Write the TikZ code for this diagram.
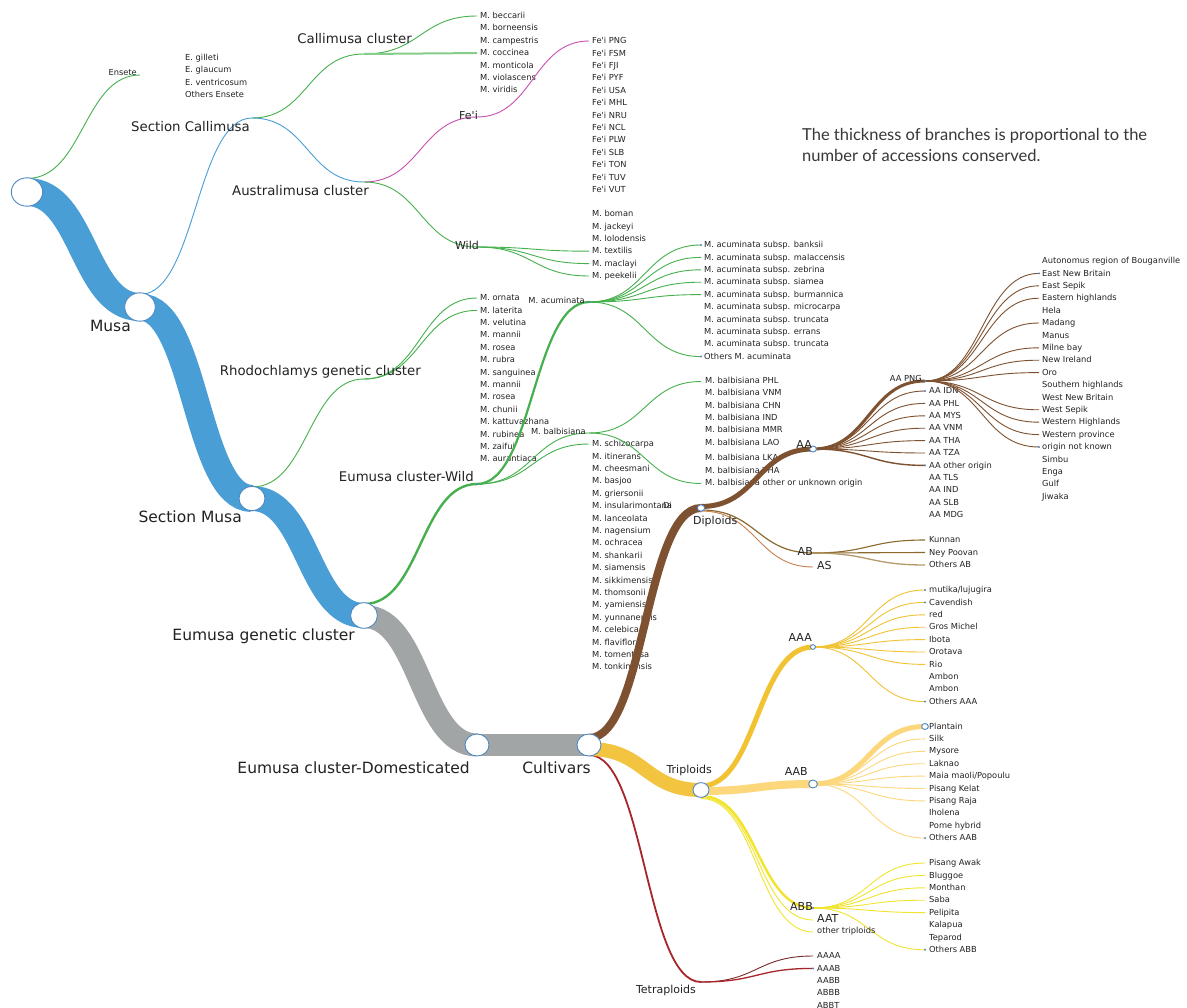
\documentclass[tikz,border=0pt]{standalone}
\usepackage{fontspec}
\setmainfont{DejaVu Sans}
\newfontfamily\notefont{Lato}
\usetikzlibrary{calc,shapes.geometric}
\definecolor{cblue}{HTML}{4A9ED6}
\definecolor{cgray}{HTML}{A2A5A6}
\definecolor{cgreen}{HTML}{45B04D}
\definecolor{cmag}{HTML}{C84FB0}
\definecolor{cbrown}{HTML}{7E5130}
\definecolor{cgold}{HTML}{F1C232}
\definecolor{ctri}{HTML}{F2C440}
\definecolor{cly}{HTML}{FDD77C}
\definecolor{cyel}{HTML}{F2E42C}
\definecolor{cred}{HTML}{A8252A}
\definecolor{cdred}{HTML}{7A2C2C}
\definecolor{colive}{HTML}{8C6A2E}
\definecolor{cas}{HTML}{C8804E}
\definecolor{ctan}{HTML}{B49A68}
\definecolor{cstroke}{HTML}{4F87C2}
\definecolor{ctext}{HTML}{222222}
\newcommand\fap{\textquotesingle}
\tikzset{
  lk/.style={line cap=butt, to path={let \p1=(\tikztostart), \p2=(\tikztotarget), \n1={(\x1+\x2)/2} in .. controls (\n1,\y1) and (\n1,\y2) .. (\tikztotarget)}},
  lab/.style={inner sep=0pt, text height=.73em, text depth=0pt, text=ctext},
  big/.style={lab, anchor=east, font=\fontsize{15.5}{17}\selectfont},
  mid/.style={lab, anchor=east, font=\fontsize{13.3}{15}\selectfont},
  sml/.style={lab, anchor=east, font=\fontsize{11}{13}\selectfont},
  lf/.style={lab, anchor=west, font=\fontsize{8.3}{10}\selectfont},
  nd/.style={ellipse, draw=cstroke, fill=white, line width=0.9pt, inner sep=0pt},
  ldot/.style={circle, fill=cstroke, inner sep=0pt, minimum size=2.2pt},
  thin/.style={line width=0.9pt},
}
\newcommand\leafgroup[6]{\foreach \lbl [count=\i] in {#6} {\node[lf] (#1-\i) at (#2,{#4+#5*(\i-1)}) {\lbl}; \coordinate (#1-\i-e) at (#3,{#4+#5*(\i-1)+1});}}
\begin{document}
\begin{tikzpicture}[x=1pt,y=-1pt]
\fill[white] (0,0) rectangle (1187,1008);
\useasboundingbox (0,0) rectangle (1187,1008);
% tree points
\coordinate (root) at (27,192);
\coordinate (ensete) at (140,75);
\coordinate (musa) at (140,307);
\coordinate (scal) at (252,118);
\coordinate (smusa) at (252,498.5);
\coordinate (ccl) at (364,54);
\coordinate (aus) at (364,182);
\coordinate (rho) at (364,379);
\coordinate (eug) at (364,615.5);
\coordinate (feii) at (477,117);
\coordinate (wildA) at (477,247);
\coordinate (ewild) at (477,484);
\coordinate (dom) at (477,745);
\coordinate (cult) at (589,745);
\coordinate (acu) at (589,302);
\coordinate (bal) at (589,433);
\coordinate (dip) at (701,508);
\coordinate (tri) at (701,790);
\coordinate (tet) at (701,982);
\coordinate (aa) at (813,449);
\coordinate (ab) at (813,553);
\coordinate (as) at (813,567);
\coordinate (aaa) at (813,647);
\coordinate (aab) at (813,784);
\coordinate (abb) at (813,908);
\coordinate (aat) at (813,920);
\coordinate (otr) at (813,932);
\coordinate (aapng) at (925,381);
% stacked start points of child branches
\coordinate (root-top) at (27,178.5);
\coordinate (musa-top) at (140,294.5);
\coordinate (smusa-top) at (252,487);
\coordinate (eug-top) at (364,604);
\coordinate (eug-low) at (364,616.5);
\coordinate (cult-dip) at (589,738);
\coordinate (cult-tri) at (589,749);
\coordinate (cult-tet) at (589,755);
\coordinate (dip-aa) at (701,506.5);
\coordinate (dip-ab) at (701,510);
\coordinate (dip-as) at (701,511);
\coordinate (tri-aaa) at (701,786);
\coordinate (tri-aab) at (701,791);
\coordinate (tri-abb) at (701,796);
\coordinate (tri-aat) at (701,797.5);
\coordinate (tri-otr) at (701,798.5);
% leaves
\leafgroup{ens}{185}{182}{56.5}{12.5}{E. gilleti, E. glaucum, E. ventricosum, Others Ensete}
\leafgroup{cal}{480}{477}{15}{12.35}{M. beccarii, M. borneensis, M. campestris, M. coccinea, M. monticola, M. violascens, M. viridis}
\leafgroup{fei}{592}{589}{40}{12.4}{Fe\fap i PNG, Fe\fap i FSM, Fe\fap i FJI, Fe\fap i PYF, Fe\fap i USA, Fe\fap i MHL, Fe\fap i NRU, Fe\fap i NCL, Fe\fap i PLW, Fe\fap i SLB, Fe\fap i TON, Fe\fap i TUV, Fe\fap i VUT}
\leafgroup{wa}{592}{589}{213}{12.4}{M. boman, M. jackeyi, M. lolodensis, M. textilis, M. maclayi, M. peekelii}
\leafgroup{ac}{704}{701}{244}{12.4}{M. acuminata subsp. banksii, M. acuminata subsp. malaccensis, M. acuminata subsp. zebrina, M. acuminata subsp. siamea, M. acuminata subsp. burmannica, M. acuminata subsp. microcarpa, M. acuminata subsp. truncata, M. acuminata subsp. errans, M. acuminata subsp. truncata, Others M. acuminata}
\leafgroup{rh}{480}{477}{297}{12.4}{M. ornata, M. laterita, M. velutina, M. mannii, M. rosea, M. rubra, M. sanguinea, M. mannii, M. rosea, M. chunii, M. kattuvazhana, M. rubinea, M. zaifui, M. aurantiaca}
\leafgroup{ew}{592}{589}{443}{12.4}{M. schizocarpa, M. itinerans, M. cheesmani, M. basjoo, M. griersonii, M. insularimontana, M. lanceolata, M. nagensium, M. ochracea, M. shankarii, M. siamensis, M. sikkimensis, M. thomsonii, M. yamiensis, M. yunnanensis, M. celebica, M. flaviflora, M. tomentosa, M. tonkinensis}
\foreach \lbl/\yy [count=\i] in {PHL/380, VNM/392.3, CHN/404.6, IND/416.9, MMR/429.2, LAO/441.5, LKA/457, THA/469.5, other or unknown origin/482} {
  \node[lf] (ba-\i) at (705,\yy) {M. balbisiana \lbl};
  \coordinate (ba-\i-e) at (701,{\yy+1.5});
}
\leafgroup{aal}{929}{925}{390}{12.4}{AA IDN, AA PHL, AA MYS, AA VNM, AA THA, AA TZA, AA other origin, AA TLS, AA IND, AA SLB, AA MDG}
\leafgroup{png}{1042}{1039}{260}{12.4}{Autonomus region of Bouganville, East New Britain, East Sepik, Eastern highlands, Hela, Madang, Manus, Milne bay, New Ireland, Oro, Southern highlands, West New Britain, West Sepik, Western Highlands, Western province, origin not known, Simbu, Enga, Gulf, Jiwaka}
\leafgroup{abl}{929}{925}{539}{12.5}{Kunnan, Ney Poovan, Others AB}
\leafgroup{aaal}{929}{925}{589}{12.4}{{mutika/lujugira}, Cavendish, red, Gros Michel, Ibota, Orotava, Rio, Ambon, Ambon, Others AAA}
\leafgroup{aabl}{929}{925}{725.5}{12.4}{Plantain, Silk, Mysore, Laknao, {Maia maoli/Popoulu}, Pisang Kelat, Pisang Raja, Iholena, Pome hybrid, Others AAB}
\leafgroup{abbl}{929}{925}{862}{12.4}{Pisang Awak, Bluggoe, Monthan, Saba, Pelipita, Kalapua, Teparod, Others ABB}
\leafgroup{tel}{817}{813}{955}{12.4}{AAAA, AAAB, AABB, ABBB, ABBT}
% thick trunk
\draw[lk,cblue,line width=28pt] (root) to (musa);
\draw[lk,cblue,line width=27pt] (musa) to (smusa);
\draw[lk,cblue,line width=25pt] (smusa) to (eug);
\draw[lk,cgray,line width=23pt] (eug-low) to (dom);
\draw[lk,cgray,line width=22pt] (dom) to (cult);
% thin links upper part
\draw[lk,cgreen,thin] (root-top) to (ensete);
\draw[lk,cblue,thin] (musa-top) to (scal);
\draw[lk,cgreen,thin] (scal) to (ccl);
\draw[lk,cblue,thin] (scal) to (aus);
\draw[lk,cgreen,thin] (ccl) to (cal-1-e);
\draw[lk,cgreen!65,line width=2pt] (ccl) to (cal-4-e);
\draw[lk,cmag,thin] (aus) to (feii);
\draw[lk,cgreen,thin] (aus) to (wildA);
\draw[lk,cmag,thin] (feii) to (fei-1-e);
\foreach \k in {4,5,6} \draw[lk,cgreen,thin] (wildA) to (wa-\k-e);
\draw[lk,cgreen,thin] (smusa-top) to (rho);
\foreach \k in {1,2} \draw[lk,cgreen,thin] (rho) to (rh-\k-e);
\draw[lk,cgreen,line width=2.4pt] (eug-top) to (ewild);
\draw[lk,cgreen,line width=2.2pt] (ewild) to (acu);
\draw[lk,cgreen,thin] (ewild) to (bal);
\draw[lk,cgreen,thin] (ewild) to (ew-1-e);
\foreach \k in {1,2,3,4,5,10} \draw[lk,cgreen,thin] (acu) to (ac-\k-e);
\foreach \k in {1,9} \draw[lk,cgreen,thin] (bal) to (ba-\k-e);
% cultivars
\draw[lk,cred,line width=1.8pt] (cult-tet) to (tet);
\draw[lk,cbrown,line width=8pt] (cult-dip) to (dip);
\draw[lk,ctri,line width=14pt] (cult-tri) to (tri);
\draw[lk,colive,line width=1.2pt] (dip-ab) to (ab);
\draw[lk,cas,thin] (dip-as) to (as);
\draw[lk,cbrown,line width=5pt] (dip-aa) to (aa);
\foreach \k in {1,...,6} \draw[lk,cbrown,thin] (aa) to (aal-\k-e);
\draw[lk,cbrown,line width=1.4pt] (aa) to (aal-7-e);
\draw[lk,cbrown,line width=3pt] (aa) to (aapng);
\foreach \k in {2,3,4,6,8,9,10,13,14,15,16} \draw[lk,cbrown,thin] (aapng) to (png-\k-e);
\foreach \k in {1,2} \draw[lk,colive,line width=1.1pt] (ab) to (abl-\k-e);
\draw[lk,ctan,line width=1.3pt] (ab) to (abl-3-e);
\draw[lk,cyel,thin] (tri-otr) to (otr);
\draw[lk,cyel,thin] (tri-aat) to (aat);
\draw[lk,cyel,line width=2.4pt] (tri-abb) to (abb);
\draw[lk,cgold,line width=5pt] (tri-aaa) to (aaa);
\draw[lk,cly,line width=8pt] (tri-aab) to (aab);
\foreach \k in {1,...,7,10} \draw[lk,cgold,thin] (aaa) to (aaal-\k-e);
\foreach \k in {2,...,7,10} \draw[lk,cly,thin] (aab) to (aabl-\k-e);
\draw[lk,cly,line width=5pt] (aab) to (aabl-1-e);
\foreach \k in {1,...,5,8} \draw[lk,cyel,thin] (abb) to (abbl-\k-e);
\draw[lk,cdred,thin] (tet) to (tel-1-e);
\draw[lk,cred,line width=1.3pt] (tet) to (tel-2-e);
% circles
\node[nd,minimum width=31.4pt,minimum height=28.4pt] (n-root) at (root) {};
\node[nd,minimum width=30.6pt,minimum height=28.4pt] (n-musa) at (musa) {};
\node[nd,minimum width=26pt,minimum height=24.4pt] (n-smusa) at (smusa) {};
\node[nd,minimum width=26.8pt,minimum height=25.6pt] (n-eug) at (eug) {};
\node[nd,minimum width=24pt,minimum height=22pt] (n-dom) at (dom) {};
\node[nd,minimum width=24pt,minimum height=22pt] (n-cult) at (cult) {};
\node[nd,minimum width=16pt,minimum height=14.7pt] (n-tri) at (tri) {};
\node[nd,minimum width=8.7pt,minimum height=8pt] (n-aab) at (aab) {};
\node[nd,minimum width=7.3pt,minimum height=6.5pt] (n-dip) at (dip) {};
\node[nd,minimum width=6.7pt,minimum height=6pt] (n-aa) at (aa) {};
\node[nd,minimum width=5pt,minimum height=4.7pt] (n-aaa) at (aaa) {};
\node[nd,minimum width=6.7pt,minimum height=6pt] (n-plantain) at (aabl-1-e) {};
\foreach \k in {ewild,acu,aapng,abb,ac-1-e,ac-10-e,png-2-e,png-16-e,aal-1-e,aal-7-e,aaal-1-e,aaal-2-e,aaal-10-e,aabl-10-e,abbl-8-e,tel-2-e}
  \node[ldot] (dot-\k) at (\k) {};
% labels
\node[big] (l-musa) at (131,328) {Musa};
\node[big] (l-smusa) at (242,519) {Section Musa};
\node[big] (l-eug) at (355,637) {Eumusa genetic cluster};
\node[big] (l-dom) at (470,770) {Eumusa cluster-Domesticated};
\node[big] (l-cult) at (591,770) {Cultivars};
\node[mid] (l-scal) at (250,128) {Section Callimusa};
\node[mid] (l-ccl) at (412,40) {Callimusa cluster};
\node[mid] (l-aus) at (369,192) {Australimusa cluster};
\node[mid] (l-rho) at (421,372) {Rhodochlamys genetic cluster};
\node[mid] (l-ewild) at (474,478) {Eumusa cluster-Wild};
\node[lf,anchor=east] (l-ensete) at (137,72) {Ensete};
\node[sml] (l-feii) at (478,116) {Fe\fap i};
\node[sml] (l-wildA) at (479,246) {Wild};
\node[lf,anchor=east] (l-acu) at (585,300) {M. acuminata};
\node[lf,anchor=east] (l-bal) at (586,431) {M. balbisiana};
\node[lf] (l-di) at (663,505) {Di};
\node[sml,anchor=west] (l-dip) at (693,521) {Diploids};
\node[sml] (l-tri) at (712,770) {Triploids};
\node[sml] (l-tet) at (696,990) {Tetraploids};
\node[sml] (l-aa) at (812,445) {AA};
\node[sml] (l-ab) at (813,552) {AB};
\node[sml,anchor=west] (l-as) at (817,566) {AS};
\node[sml] (l-aaa) at (812,638) {AAA};
\node[sml] (l-aab) at (808,772) {AAB};
\node[sml] (l-abb) at (813,907) {ABB};
\node[sml,anchor=west] (l-aat) at (817,919) {AAT};
\node[lf] (l-otr) at (817,930) {other triploids};
\node[lf,anchor=east] (l-aapng) at (922,378) {AA PNG};
\node[lab,anchor=west,text=black!78,font=\notefont\fontsize{16.5}{20}\selectfont] (note1) at (802,137) {The thickness of branches is proportional to the};
\node[lab,anchor=west,text=black!78,font=\notefont\fontsize{16.5}{20}\selectfont] (note2) at (802,158) {number of accessions conserved.};
\end{tikzpicture}
\end{document}
